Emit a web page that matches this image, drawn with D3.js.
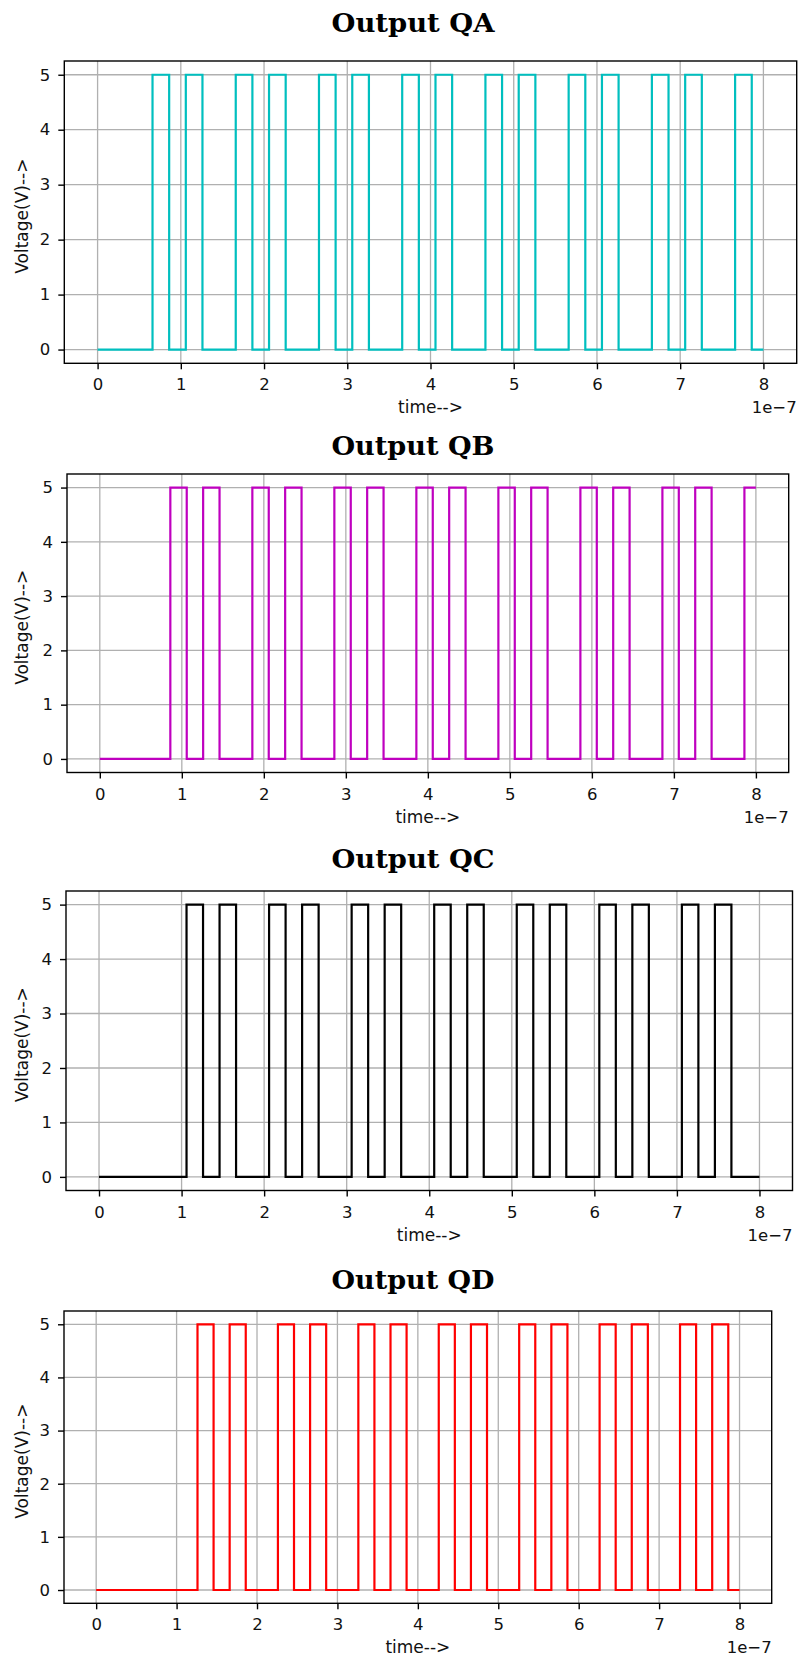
<!DOCTYPE html>
<html><head><meta charset="utf-8">
<script src="https://cdn.jsdelivr.net/npm/d3@7/dist/d3.min.js"></script>
<style>body{margin:0;background:#fff}</style>
</head><body>
<svg id="chart" width="799" height="1660"></svg>
<script>
// ---- data (time in units of 1e-7 s, voltage in V) ----
const xTicks = [0,1,2,3,4,5,6,7,8];
const yTicks = [0,1,2,3,4,5];
const titles = ["Output QA","Output QB","Output QC","Output QD"];
const seriesColors = ["#00bfbf","#bf00bf","#000000","#ff0000"];

const qaTime = [0,0.66,0.86,1.06,1.26,1.66,1.86,2.06,2.26,2.66,2.86,3.06,3.26,3.66,3.86,4.06,4.26,4.66,4.86,5.06,5.26,5.66,5.86,6.06,6.26,6.66,6.86,7.06,7.26,7.66,7.86,8.0];
const qaVolt = [0,5,0,5,0,5,0,5,0,5,0,5,0,5,0,5,0,5,0,5,0,5,0,5,0,5,0,5,0,5,0,0];

const qbTime = [0,0.86,1.06,1.26,1.46,1.86,2.06,2.26,2.46,2.86,3.06,3.26,3.46,3.86,4.06,4.26,4.46,4.86,5.06,5.26,5.46,5.86,6.06,6.26,6.46,6.86,7.06,7.26,7.46,7.86,8.0];
const qbVolt = [0,5,0,5,0,5,0,5,0,5,0,5,0,5,0,5,0,5,0,5,0,5,0,5,0,5,0,5,0,5,5];

const qcTime = [0,1.06,1.26,1.46,1.66,2.06,2.26,2.46,2.66,3.06,3.26,3.46,3.66,4.06,4.26,4.46,4.66,5.06,5.26,5.46,5.66,6.06,6.26,6.46,6.66,7.06,7.26,7.46,7.66,8.0];
const qcVolt = [0,5,0,5,0,5,0,5,0,5,0,5,0,5,0,5,0,5,0,5,0,5,0,5,0,5,0,5,0,0];

const qdTime = [0,1.26,1.46,1.66,1.86,2.26,2.46,2.66,2.86,3.26,3.46,3.66,3.86,4.26,4.46,4.66,4.86,5.26,5.46,5.66,5.86,6.26,6.46,6.66,6.86,7.26,7.46,7.66,7.86,8.0];
const qdVolt = [0,5,0,5,0,5,0,5,0,5,0,5,0,5,0,5,0,5,0,5,0,5,0,5,0,5,0,5,0,0];

const seriesTimes = [qaTime, qbTime, qcTime, qdTime];
const seriesVolts = [qaVolt, qbVolt, qcVolt, qdVolt];

// ---- layout ----
const panels = [
  {left:64.3, right:796.7, top:61,   bottom:363.3,  titleY:32},
  {left:67.0, right:788.7, top:474,  bottom:772.5,  titleY:455},
  {left:66.0, right:792.5, top:891,  bottom:1190.5, titleY:868},
  {left:64.0, right:771.7, top:1311, bottom:1603.3, titleY:1289}
];
const svg = d3.select("#chart");
const fontSans = "'DejaVu Sans', sans-serif";
const fs = 16.5;

panels.forEach((p, i) => {
  const x = d3.scaleLinear().domain([-0.4, 8.4]).range([p.left, p.right]);
  const y = d3.scaleLinear().domain([-0.25, 5.25]).range([p.bottom, p.top]);
  const g = svg.append("g");

  // title
  g.append("text")
    .attr("x", 413).attr("y", p.titleY)
    .attr("text-anchor", "middle")
    .attr("font-family", "'DejaVu Serif', serif")
    .attr("font-weight", "bold")
    .attr("font-size", 26)
    .attr("textLength", 163).attr("lengthAdjust", "spacingAndGlyphs")
    .attr("fill", "#000")
    .text(titles[i]);

  // grid
  g.append("g").selectAll("line").data(xTicks).join("line")
    .attr("x1", d => x(d)).attr("x2", d => x(d))
    .attr("y1", p.top).attr("y2", p.bottom)
    .attr("stroke", "#b0b0b0").attr("stroke-width", 1.3);
  g.append("g").selectAll("line").data(yTicks).join("line")
    .attr("y1", d => y(d)).attr("y2", d => y(d))
    .attr("x1", p.left).attr("x2", p.right)
    .attr("stroke", "#b0b0b0").attr("stroke-width", 1.3);

  // series
  const pts = seriesTimes[i].map((t, k) => [t, seriesVolts[i][k]]);
  const line = d3.line().x(d => x(d[0])).y(d => y(d[1])).curve(d3.curveStepAfter);
  g.append("path").datum(pts)
    .attr("d", line)
    .attr("fill", "none")
    .attr("stroke", seriesColors[i])
    .attr("stroke-width", 2.2)
    .attr("stroke-linejoin", "miter");

  // frame
  g.append("rect")
    .attr("x", p.left).attr("y", p.top)
    .attr("width", p.right - p.left).attr("height", p.bottom - p.top)
    .attr("fill", "none").attr("stroke", "#000").attr("stroke-width", 1.4);

  // axes
  const xa = g.append("g").attr("transform", `translate(0,${p.bottom})`)
    .call(d3.axisBottom(x).tickValues(xTicks).tickSize(6).tickPadding(9.3).tickFormat(d3.format("d")));
  const ya = g.append("g").attr("transform", `translate(${p.left},0)`)
    .call(d3.axisLeft(y).tickValues(yTicks).tickSize(6).tickPadding(8).tickFormat(d3.format("d")));
  [xa, ya].forEach(a => {
    a.select(".domain").remove();
    a.selectAll(".tick line").attr("stroke", "#000").attr("stroke-width", 1.4);
    a.selectAll(".tick text").attr("font-family", fontSans).attr("font-size", fs).attr("fill", "#111");
  });

  // axis labels
  g.append("text")
    .attr("x", (p.left + p.right) / 2).attr("y", p.bottom + 50)
    .attr("text-anchor", "middle")
    .attr("font-family", fontSans).attr("font-size", 17).attr("fill", "#111")
    .text("time-->");
  g.append("text")
    .attr("x", p.right).attr("y", p.bottom + 50)
    .attr("text-anchor", "end")
    .attr("font-family", fontSans).attr("font-size", fs).attr("fill", "#111")
    .text("1e\u22127");
  const cy = (p.top + p.bottom) / 2 + 4;
  g.append("text")
    .attr("transform", `translate(22,${cy}) rotate(-90)`)
    .attr("text-anchor", "middle")
    .attr("dominant-baseline", "central")
    .attr("font-family", fontSans).attr("font-size", 17).attr("fill", "#111")
    .text("Voltage(V)-->");
});
</script>
</body></html>
